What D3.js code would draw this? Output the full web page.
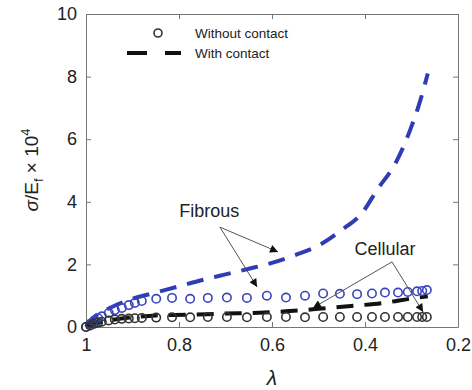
<!DOCTYPE html>
<html>
<head>
<meta charset="utf-8">
<script src="https://cdn.jsdelivr.net/npm/d3@7"></script>
<style>
  body { margin: 0; background: #fff; }
  text { font-family: "Liberation Sans", Arial, sans-serif; fill: #222; }
</style>
</head>
<body>
<div id="chart"></div>
<script>
// stretch ratio grid for the marker series (same for both)
var lambdaPts = [1, 0.991, 0.983, 0.974, 0.966, 0.951, 0.938, 0.923, 0.908, 0.895, 0.880, 0.849, 0.815, 0.776, 0.738,
  0.697, 0.654, 0.611, 0.570, 0.529, 0.490, 0.454, 0.417, 0.385, 0.357, 0.329, 0.308, 0.288, 0.277, 0.267];
var fibrousNoContact = [0, 0.1, 0.2, 0.28, 0.34, 0.45, 0.54, 0.61, 0.7, 0.77, 0.83, 0.9, 0.93, 0.9, 0.93,
  0.94, 0.93, 1.0, 0.94, 1.0, 1.07, 1.06, 1.05, 1.07, 1.1, 1.1, 1.12, 1.14, 1.15, 1.18];
var cellularNoContact = [0, 0.05, 0.1, 0.14, 0.17, 0.21, 0.24, 0.26, 0.27, 0.28, 0.29, 0.3, 0.31, 0.31, 0.32,
  0.32, 0.31, 0.32, 0.32, 0.31, 0.32, 0.32, 0.32, 0.32, 0.32, 0.32, 0.32, 0.32, 0.32, 0.32];

// with contact curves
var lambdaFib = [1, 0.98, 0.95, 0.9, 0.85, 0.8, 0.75, 0.7, 0.65, 0.6, 0.55, 0.5, 0.45, 0.405, 0.374, 0.331, 0.303, 0.282, 0.265];
var fibrousContact = [0, 0.35, 0.6, 0.9, 1.1, 1.3, 1.5, 1.68, 1.86, 2.05, 2.3, 2.6, 3.1, 3.67, 4.38, 5.33, 6.29, 7.19, 8.1];
var lambdaCell = [1, 0.97, 0.93, 0.9, 0.85, 0.78, 0.7, 0.64, 0.57, 0.5, 0.43, 0.36, 0.3, 0.265];
var cellularContact = [0, 0.15, 0.26, 0.31, 0.37, 0.39, 0.43, 0.45, 0.5, 0.58, 0.67, 0.77, 0.91, 0.98];

var xTicks = [1, 0.8, 0.6, 0.4, 0.2];
var yTicks = [0, 2, 4, 6, 8, 10];

var svgWidth = 472, svgHeight = 390;
var margin = { top: 14, right: 14, bottom: 63, left: 86 };
var width = svgWidth - margin.left - margin.right;
var height = svgHeight - margin.top - margin.bottom;

var svg = d3.select("#chart").append("svg")
  .attr("width", svgWidth)
  .attr("height", svgHeight);

svg.append("defs").append("marker")
  .attr("id", "arrow")
  .attr("viewBox", "0 0 10 10")
  .attr("refX", 10).attr("refY", 5)
  .attr("markerWidth", 11).attr("markerHeight", 8)
  .attr("markerUnits", "userSpaceOnUse")
  .attr("orient", "auto")
  .append("path")
  .attr("d", "M0,0 L10,5 L0,10 Z")
  .attr("fill", "#111");

var chartGroup = svg.append("g")
  .attr("transform", `translate(${margin.left}, ${margin.top})`);

var xScale = d3.scaleLinear().domain([1, 0.2]).range([0, width]);
var yScale = d3.scaleLinear().domain([0, 10]).range([height, 0]);

// axes, ticks pointing in, box
var axisColor = "#777";
function styleAxis(g) {
  g.select(".domain").attr("stroke", axisColor);
  g.selectAll(".tick line").attr("stroke", axisColor);
  g.selectAll(".tick text").attr("font-size", "18px").attr("fill", "#222")
    .attr("font-family", "Liberation Sans, Arial, sans-serif");
}
chartGroup.append("g")
  .attr("transform", `translate(0, ${height})`)
  .call(d3.axisBottom(xScale).tickValues(xTicks).tickFormat(d3.format("")).tickSizeInner(-5).tickSizeOuter(0).tickPadding(11))
  .call(styleAxis);
chartGroup.append("g")
  .call(d3.axisTop(xScale).tickValues(xTicks).tickFormat("").tickSizeInner(-5).tickSizeOuter(0))
  .call(styleAxis);
chartGroup.append("g")
  .call(d3.axisLeft(yScale).tickValues(yTicks).tickFormat(d3.format("")).tickSizeInner(-5).tickSizeOuter(0).tickPadding(9))
  .call(styleAxis);
chartGroup.append("g")
  .attr("transform", `translate(${width}, 0)`)
  .call(d3.axisRight(yScale).tickValues(yTicks).tickFormat("").tickSizeInner(-5).tickSizeOuter(0))
  .call(styleAxis);

var blue = "#2f3cb4";
var line = d3.line().x(d => xScale(d[0])).y(d => yScale(d[1])).curve(d3.curveMonotoneX);

// with contact (dashed)
chartGroup.append("path")
  .datum(lambdaFib.map((l, i) => [l, fibrousContact[i]]))
  .attr("d", line)
  .attr("fill", "none")
  .attr("stroke", blue)
  .attr("stroke-width", 4)
  .attr("stroke-dasharray", "17,11");

chartGroup.append("path")
  .datum(lambdaCell.map((l, i) => [l, cellularContact[i]]))
  .attr("d", line)
  .attr("fill", "none")
  .attr("stroke", "#111")
  .attr("stroke-width", 4)
  .attr("stroke-dasharray", "17,11");

// without contact (circles)
chartGroup.selectAll(".fibCircle")
  .data(lambdaPts.map((l, i) => [l, fibrousNoContact[i]]))
  .enter()
  .append("circle")
  .attr("cx", d => xScale(d[0]))
  .attr("cy", d => yScale(d[1]))
  .attr("r", 4.2)
  .attr("fill", "none")
  .attr("stroke", "#3a45bb")
  .attr("stroke-width", 1.6);

chartGroup.selectAll(".cellCircle")
  .data(lambdaPts.map((l, i) => [l, cellularNoContact[i]]))
  .enter()
  .append("circle")
  .attr("cx", d => xScale(d[0]))
  .attr("cy", d => yScale(d[1]))
  .attr("r", 4.2)
  .attr("fill", "none")
  .attr("stroke", "#333")
  .attr("stroke-width", 1.6);

// annotations (in data units)
var annotations = [
  { label: "Fibrous", at: [0.735, 3.5], from: [0.712, 3.19], to: [[0.587, 2.4], [0.632, 1.28]] },
  { label: "Cellular", at: [0.357, 2.3], from: [0.342, 2.08], to: [[0.512, 0.61], [0.275, 0.48]] }
];
annotations.forEach(a => {
  chartGroup.append("text")
    .attr("x", xScale(a.at[0]))
    .attr("y", yScale(a.at[1]))
    .attr("text-anchor", "middle")
    .attr("font-size", "18px")
    .text(a.label);
  a.to.forEach(t => {
    chartGroup.append("line")
      .attr("x1", xScale(a.from[0])).attr("y1", yScale(a.from[1]))
      .attr("x2", xScale(t[0])).attr("y2", yScale(t[1]))
      .attr("stroke", "#555")
      .attr("stroke-width", 1)
      .attr("marker-end", "url(#arrow)");
  });
});

// legend
var legend = chartGroup.append("g").attr("transform", "translate(41, 19)");
legend.append("circle").attr("cx", 31).attr("cy", 0).attr("r", 4)
  .attr("fill", "none").attr("stroke", "#333").attr("stroke-width", 1.6);
legend.append("text").attr("x", 68).attr("y", 5).attr("font-size", "13.5px").text("Without contact");
legend.append("line").attr("x1", 0).attr("x2", 54).attr("y1", 20).attr("y2", 20)
  .attr("stroke", "#111").attr("stroke-width", 4).attr("stroke-dasharray", "20,18");
legend.append("text").attr("x", 68).attr("y", 25).attr("font-size", "13.5px").text("With contact");

// axis labels
svg.append("text")
  .attr("x", margin.left + xScale(0.6))
  .attr("y", 385)
  .attr("text-anchor", "middle")
  .attr("font-size", "21px")
  .attr("font-style", "italic")
  .text("λ");

var yLabel = svg.append("text")
  .attr("transform", "translate(38, 170) rotate(-90)")
  .attr("text-anchor", "middle")
  .attr("font-size", "19px");
yLabel.append("tspan").attr("font-style", "italic").text("σ");
yLabel.append("tspan").text("/E");
yLabel.append("tspan").attr("font-size", "13px").attr("dy", 5).text("f");
yLabel.append("tspan").attr("dy", -5).text(" × 10");
yLabel.append("tspan").attr("font-size", "13px").attr("dy", -8).text("4");
</script>
</body>
</html>
